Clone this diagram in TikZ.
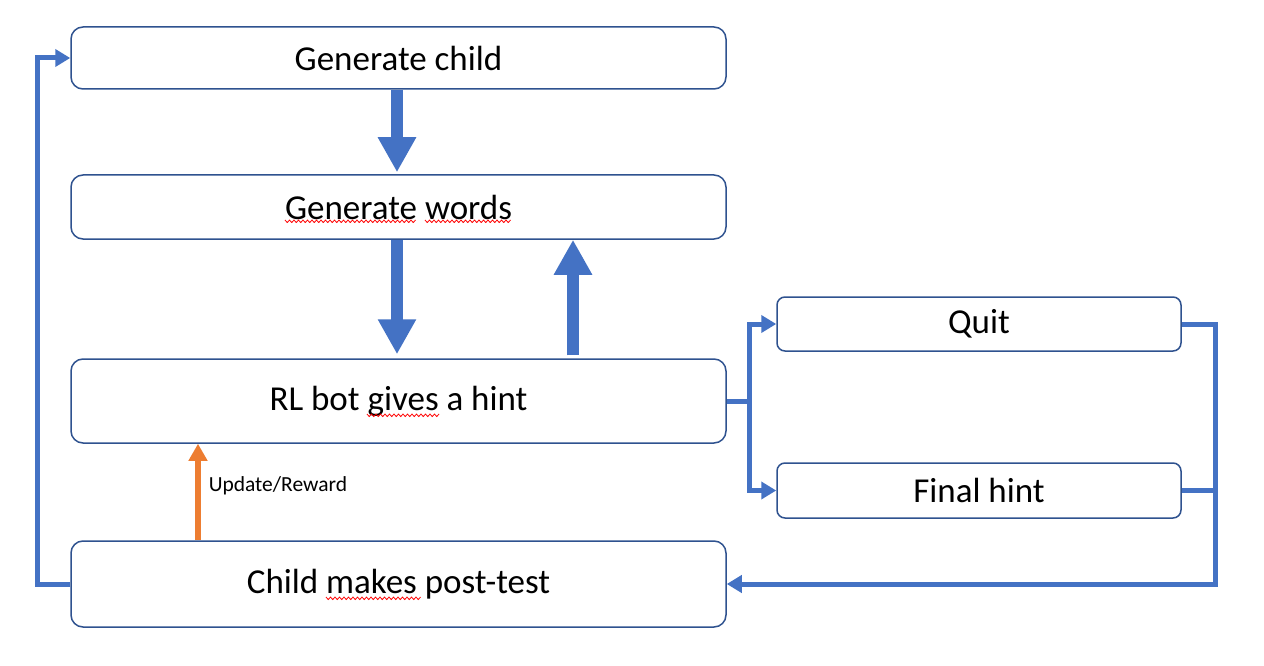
\documentclass[tikz,border=0pt]{standalone}
\usepackage{fontspec}
\setmainfont{Carlito}
\usetikzlibrary{arrows.meta,calc}
\definecolor{boxline}{HTML}{2F528F}
\definecolor{arrowblue}{HTML}{4472C4}
\definecolor{arroworange}{HTML}{ED7D31}
\newlength\wfull
\newlength\wpre
\newlength\wword
\newcommand\bigfont{\fontsize{35}{42}\selectfont}
% zigzag underline: #1 = start coordinate, #2 = width (pt number)
\newcommand\zigline[2]{%
  \pgfmathtruncatemacro\zign{#2/4.5}%
  \draw[squig] #1 \foreach \zi in {1,...,\zign}{ -- ++(2.25,2.6) -- ++(2.25,-2.6)};%
}
\begin{document}
\begin{tikzpicture}[x=1pt,y=-1pt,
  flowbox/.style={draw=boxline,line width=1.5pt,fill=white,rounded corners=12pt,
    font=\bigfont,inner sep=0pt,minimum width=655pt},
  smallbox/.style={flowbox,rounded corners=8pt,minimum width=404pt},
  bigarrow/.style={draw=arrowblue,line width=12pt,-{Triangle[width=36pt,length=35pt]}},
  conn/.style={draw=arrowblue,line width=5pt},
  connarrow/.style={conn,-{Triangle[width=17pt,length=15pt]}},
  orangearrow/.style={draw=arroworange,line width=5.5pt,-{Triangle[width=18pt,length=17pt]}},
  squig/.style={draw=red,line width=0.8pt,line join=round}
]
\useasboundingbox (0,0) rectangle (1264,666);
\fill[white] (0,0) rectangle (1264,666);

\node[flowbox,minimum height=62pt] (gc) at (398.5,58) {Generate child};
\node[flowbox,minimum height=64pt] (gw) at (398.5,207) {Generate words};
\node[flowbox,minimum height=84pt] (rl) at (398.5,401) {RL bot gives a hint};
\node[flowbox,minimum height=86pt] (ch) at (398.5,584) {Child makes post-test};
\node[smallbox,minimum height=54pt] (quit) at (979,324) {Quit};
\node[smallbox,minimum height=55pt] (fh) at (979,490.5) {Final hint};

% spell-check squiggles (Generate words: 285..420 and 425..512; gives; makes)
\zigline{(285,220)}{134}
\zigline{(425,220)}{87}
\zigline{(367,414)}{72}
\zigline{(326,597)}{96}

% thick vertical arrows
\draw[bigarrow] ([xshift=-1.5pt]gc.south) -- ([xshift=-1.5pt,yshift=2pt]gw.north);
\draw[bigarrow] ([xshift=-1.5pt]gw.south) -- ([xshift=-1.5pt,yshift=4pt]rl.north);
\draw[bigarrow] ([xshift=174.5pt,yshift=3pt]rl.north) -- ([xshift=174.5pt]gw.south);

% branch to Quit / Final hint
\coordinate (br) at ([xshift=23pt]rl.east);
\draw[conn] (rl.east) -- (br);
\draw[connarrow] (br) |- (quit.west);
\draw[connarrow] (br) |- (fh.west);

% return to child
\coordinate (rr) at ([xshift=34pt]quit.east |- ch.east);
\draw[connarrow] (quit.east) -| (rr) -- (ch.east);
\draw[conn] (fh.east) -- (fh.east -| rr);

% loop back to generate child
\coordinate (ll) at ([xshift=-33pt]ch.west);
\draw[connarrow] (ch.west) -- (ll) |- (gc.west);

% update / reward
\draw[orangearrow] ([xshift=-200.5pt]ch.north) -- ([xshift=-200.5pt]rl.south)
  node[midway,anchor=west,xshift=8pt,yshift=6pt,inner sep=0pt,font=\fontsize{21.5}{26}\selectfont] (ur) {Update/Reward};
\end{tikzpicture}
\end{document}
